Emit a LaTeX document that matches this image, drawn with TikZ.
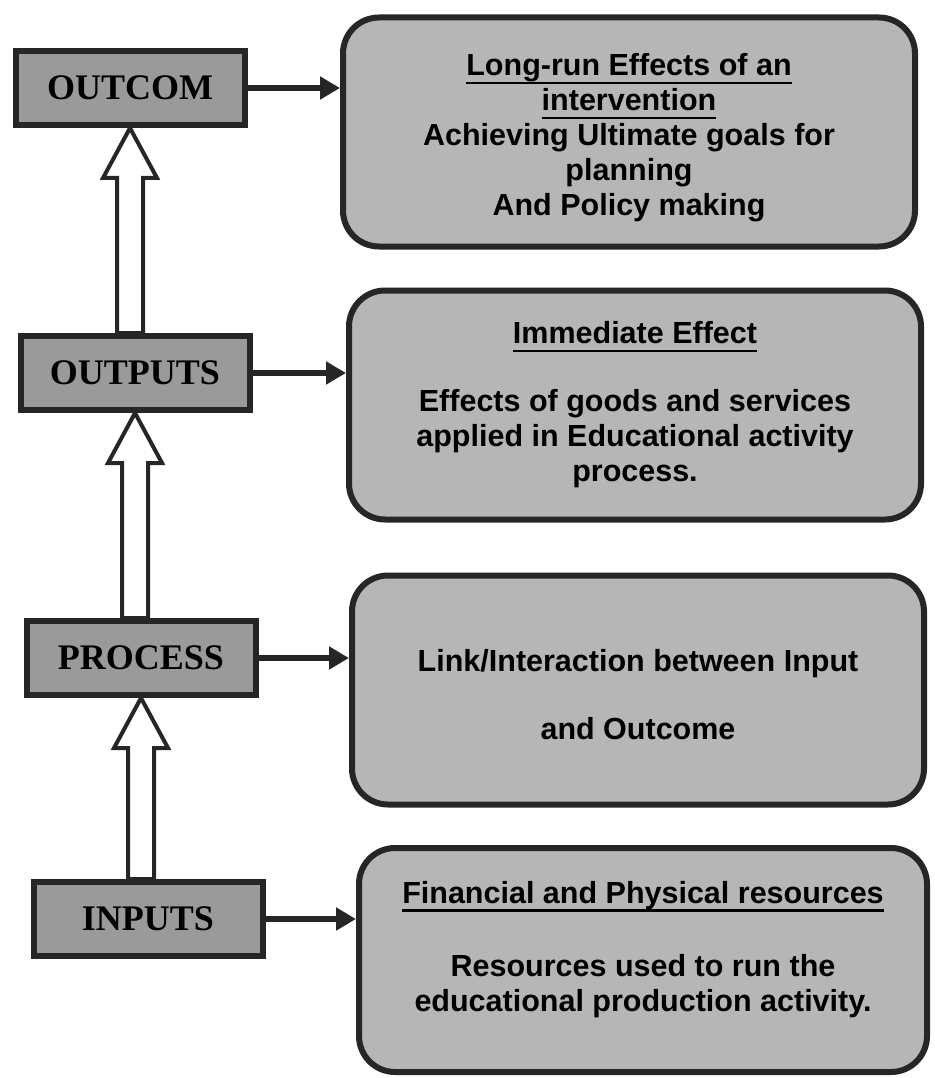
\documentclass[tikz,border=0pt]{standalone}
\usepackage{fontspec}
\setmainfont{Liberation Sans}
\newfontfamily\labelfont{Liberation Serif}
\usetikzlibrary{arrows.meta,calc}

\definecolor{boxgray}{HTML}{9A9A9A}
\definecolor{notegray}{HTML}{B6B6B6}
\definecolor{inkgray}{HTML}{262626}

% heading rule sits just under the descenders
\newcommand{\headline}[1]{\setbox0\hbox{#1}\rlap{\rule[-8.5pt]{\wd0}{2.5pt}}\box0}

\tikzset{
  stagebox/.style={draw=inkgray, line width=6pt, fill=boxgray, minimum width=229pt,
    minimum height=74pt, inner sep=0pt, font=\labelfont\bfseries\fontsize{36}{40}\selectfont},
  notebox/.style={draw=inkgray, line width=6pt, fill=notegray, rounded corners=36pt,
    minimum width=572pt, minimum height=229pt, inner sep=0pt, align=center,
    font=\bfseries\fontsize{30.5}{35}\selectfont},
  linkarrow/.style={draw=inkgray, line width=5.5pt, -{Triangle[length=20pt,width=22pt]}},
  blockarrow/.style={draw=inkgray, line width=4pt, fill=white, line join=miter},
}

\begin{document}
\begin{tikzpicture}[x=1pt,y=-1pt]
  \useasboundingbox (0,0) rectangle (934,1078);

  % stages
  \node[stagebox] (outcome) at (130,88)  {OUTCOM};
  \node[stagebox] (outputs) at (135,373) {OUTPUTS};
  \node[stagebox] (process) at (141,658) {PROCESS};
  \node[stagebox] (inputs)  at (148,919) {INPUTS};

  % descriptions
  \node[notebox] (longrun) at (629,132) {\mbox{}\\[-1pt]\headline{Long-run Effects of an}\\
    \headline{intervention}\\ Achieving Ultimate goals for\\ planning\\ And Policy making};
  \node[notebox] (immediate) at (635,405) {\headline{Immediate Effect}\\[33pt]
    Effects of goods and services\\ applied in Educational activity\\ process.};
  \node[notebox] (link) at (638,690) {\mbox{}\\[-3pt]Link/Interaction between Input\\[33pt] and Outcome};
  \node[notebox, minimum width=568pt, minimum height=224pt] (resources) at (643,960)
    {\headline{Financial and Physical resources}\\[38pt]
    Resources used to run the\\ educational production activity.\\[-7pt]\mbox{}};

  \foreach \a/\b in {outcome/longrun, outputs/immediate, process/link, inputs/resources} {
      \draw[linkarrow] (\a.east) -- (\b.west |- \a.east);
  }

  \foreach \a/\b in {inputs/process, process/outputs, outputs/outcome} {
      \path (\b.south) ++(-13,0) coordinate (sl) ++(26,0) coordinate (sr);
      \draw[blockarrow] (\b.south) -- ++(27,50) -- ++(-14,0) -- (sr |- \a.north)
        -- (sl |- \a.north) -- ($(sl)+(0,50)$) -- ++(-14,0) -- cycle;
  }
\end{tikzpicture}
\end{document}
